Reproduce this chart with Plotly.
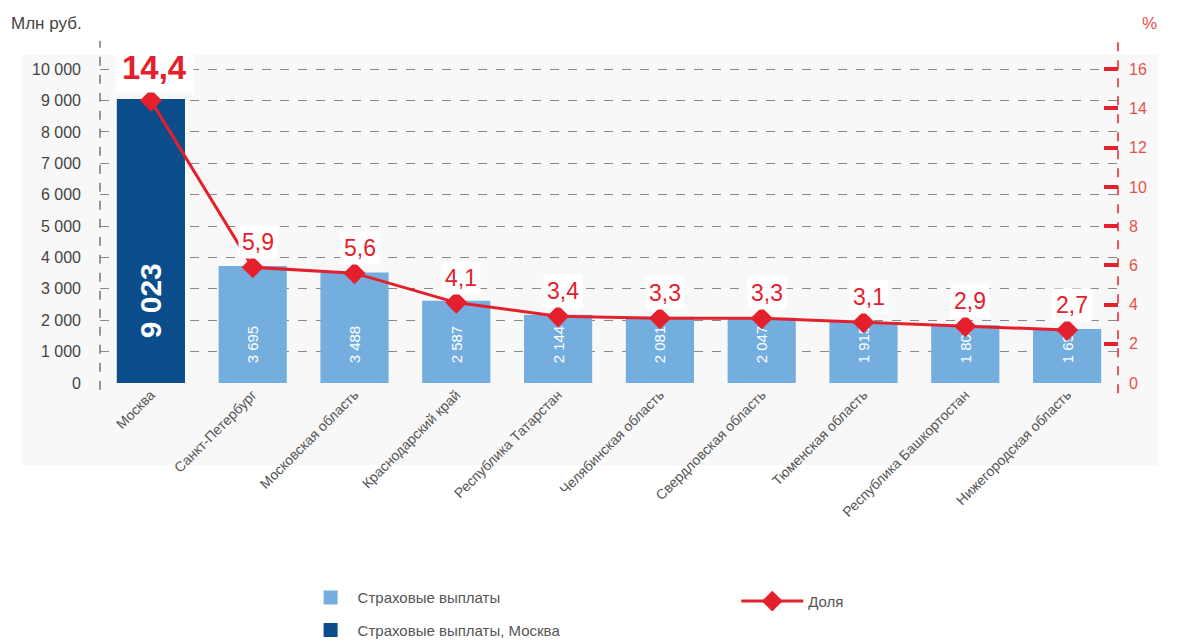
import plotly.graph_objects as go

regions = ["Москва", "Санкт-Петербург", "Московская область", "Краснодарский край",
           "Республика Татарстан", "Челябинская область", "Свердловская область",
           "Тюменская область", "Республика Башкортостан", "Нижегородская область"]
payments = [9023, 3695, 3488, 2587, 2144, 2081, 2047, 1915, 1805, 1690]
payment_labels = ["9 023", "3 695", "3 488", "2 587", "2 144", "2 081", "2 047", "1 915", "1 805", "1 690"]
share = [14.4, 5.9, 5.6, 4.1, 3.4, 3.3, 3.3, 3.1, 2.9, 2.7]
share_labels = ["14,4", "5,9", "5,6", "4,1", "3,4", "3,3", "3,3", "3,1", "2,9", "2,7"]
left_ticks = [0, 1000, 2000, 3000, 4000, 5000, 6000, 7000, 8000, 9000, 10000]
right_ticks = [0, 2, 4, 6, 8, 10, 12, 14, 16]

FONT = "Liberation Sans, Arial, sans-serif"
RED = "#e4202c"
LIGHT = "#74aedf"
DARK = "#0b4d8a"
NB = "\u00a0"  # неразрывные пробелы поднимают подпись над основанием столбца

fig = go.Figure()

# Москва отдельно (тёмный столбец)
fig.add_trace(go.Bar(
    x=regions[:1], y=payments[:1], name="Страховые выплаты, Москва",
    marker=dict(color=DARK, line=dict(color=DARK, width=2)), width=0.65,
    text=payment_labels[:1], texttemplate=NB * 5 + "%{text}",
    textposition="inside", insidetextanchor="start", textangle=-90, constraintext="none",
    textfont=dict(size=30, color="white", family=FONT, weight="bold"),
    legend="legend", legendgroup="b", legendrank=2,
))
fig.add_trace(go.Bar(
    x=regions[1:], y=payments[1:], name="Страховые выплаты",
    marker=dict(color=LIGHT, line=dict(color=LIGHT, width=2)), width=0.65,
    text=payment_labels[1:], texttemplate=NB * 4 + "%{text}",
    textposition="inside", insidetextanchor="start", textangle=-90, constraintext="none",
    textfont=dict(size=15, color="white", family=FONT),
    legend="legend", legendgroup="a", legendrank=1,
))
fig.add_trace(go.Scatter(
    x=regions, y=share, yaxis="y2", name="Доля", mode="lines+markers",
    line=dict(color=RED, width=3),
    marker=dict(symbol="diamond", size=17, color=RED),
    legend="legend2",
))

# подписи доли
for i, (r, v, lab) in enumerate(zip(regions, share, share_labels)):
    big = i == 0
    fig.add_annotation(
        x=r, y=v, xref="x", yref="y2", text=lab, showarrow=False,
        yshift=33 if big else 25, xshift=4 if big else 5,
        font=dict(size=33 if big else 23, color=RED, family=FONT,
                  weight="bold" if big else "normal"),
        bgcolor="white", borderpad=6 if big else 3,
    )

# оси пунктиром
fig.add_shape(type="line", xref="paper", yref="paper", x0=0, x1=0, y0=-0.02, y1=1.0,
              line=dict(color="#777", width=1.5, dash="dash"))
fig.add_shape(type="line", xref="paper", yref="paper", x0=1, x1=1, y0=-0.03, y1=1.0,
              line=dict(color=RED, width=1.5, dash="dash"))
# светлая подложка
fig.add_shape(type="rect", xref="paper", yref="paper", x0=-0.077, x1=1.04, y0=-0.24, y1=0.96,
              fillcolor="#f8f8f8", line_width=0, layer="below")

fig.add_annotation(text="Млн руб.", xref="paper", yref="paper", x=-0.089, y=1.085,
                   xanchor="left", yanchor="top", showarrow=False,
                   font=dict(size=17, color="#444", family=FONT))
fig.add_annotation(text="%", xref="paper", yref="paper", x=1.022, y=1.085,
                   xanchor="left", yanchor="top", showarrow=False,
                   font=dict(size=17, color="#e9504d", family=FONT))

# страница открывается с отступом body 8px, поэтому фигура на 8px меньше
fig.update_layout(
    width=1176, height=633,
    margin=dict(l=92, r=66, t=33, b=258, autoexpand=False),
    paper_bgcolor="white", plot_bgcolor="rgba(0,0,0,0)",
    barmode="overlay", separators=", ",
    font=dict(family=FONT, color="#444"),
    xaxis=dict(range=[-0.5, 9.5], tickangle=-45, tickfont=dict(size=14, color="#555"),
               showgrid=False, showline=False, ticks="", automargin=False),
    yaxis=dict(range=[0, 10900], tickvals=left_ticks, tickformat=",d",
               tickfont=dict(size=16, color="#444"), ticklabelstandoff=18,
               showgrid=True, gridcolor="#888", griddash="dash", gridwidth=1.2,
               zeroline=False, showline=False, automargin=False),
    yaxis2=dict(range=[0, 17.44], tickvals=right_ticks, overlaying="y", side="right",
                tickfont=dict(size=16, color="#e9504d"), ticks="inside", ticklen=14,
                tickwidth=4, tickcolor=RED, ticklabelstandoff=10,
                showgrid=False, zeroline=False, showline=False, automargin=False),
    legend=dict(x=0.2, y=-0.58, xanchor="left", yanchor="top", orientation="v",
                font=dict(size=15, color="#555"), bgcolor="rgba(0,0,0,0)",
                tracegroupgap=10, traceorder="grouped", itemwidth=44),
    legend2=dict(x=0.625, y=-0.59, xanchor="left", yanchor="top",
                 font=dict(size=15, color="#555"), bgcolor="rgba(0,0,0,0)", itemwidth=62),
)

fig.write_html("out.html")
